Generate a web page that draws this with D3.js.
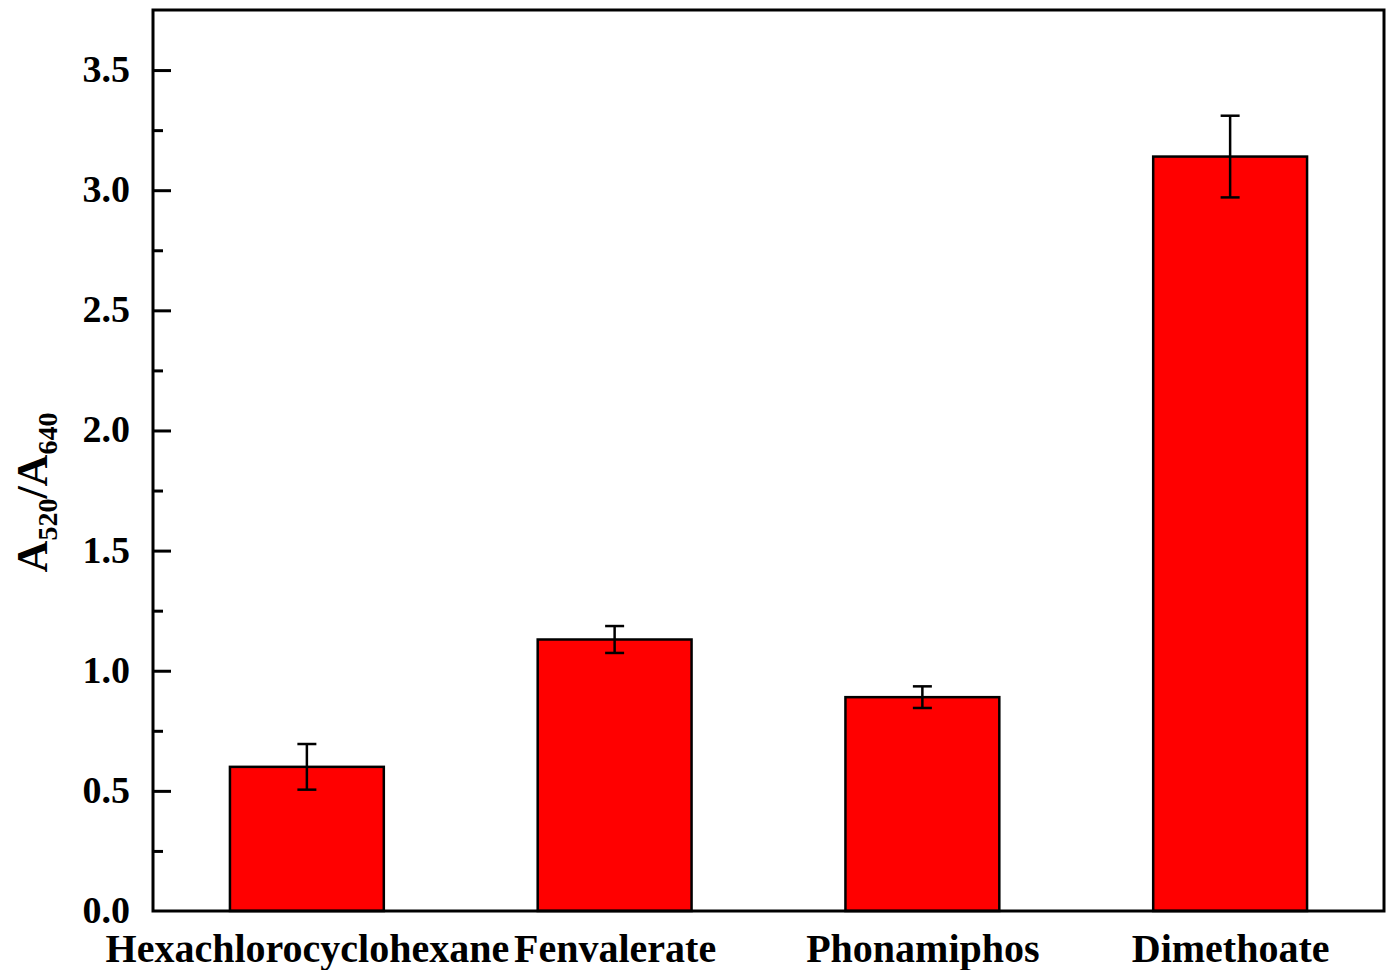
<!DOCTYPE html>
<html>
<head>
<meta charset="utf-8">
<script src="https://cdn.jsdelivr.net/npm/d3@7"></script>
<style>
  html, body { margin: 0; padding: 0; background: #fff; }
  svg { display: block; }
  text { font-family: "Liberation Serif", "Times New Roman", serif; font-weight: bold; fill: #000; }
</style>
</head>
<body>
<svg id="chart" width="1392" height="970"></svg>
<script>
// Pesticide response ratios with standard deviations
const categories = ["Hexachlorocyclohexane", "Fenvalerate", "Phonamiphos", "Dimethoate"];
const ratios = [0.60, 1.13, 0.89, 3.14];
const errors = [0.095, 0.056, 0.045, 0.17];
const yTicks = [0.0, 0.5, 1.0, 1.5, 2.0, 2.5, 3.0, 3.5];
const yMinorTicks = [0.25, 0.75, 1.25, 1.75, 2.25, 2.75, 3.25];

const W = 1392, H = 970;
const margin = { left: 153, right: 8, top: 10, bottom: 59 };
const svg = d3.select("#chart");

const x = d3.scaleLinear().domain([0.5, categories.length + 0.5]).range([margin.left, W - margin.right]);
const y = d3.scaleLinear().domain([0, 3.75]).range([H - margin.bottom, margin.top]);
const barW = (x(1) - x(0)) * 0.5;

// Bars
svg.append("g").selectAll("rect")
  .data(ratios)
  .join("rect")
  .attr("x", (d, i) => x(i + 1) - barW / 2)
  .attr("y", d => y(d))
  .attr("width", barW)
  .attr("height", d => y(0) - y(d))
  .attr("fill", "#ff0000")
  .attr("stroke", "#000")
  .attr("stroke-width", 2.5);

// Error bars
const eb = svg.append("g").attr("stroke", "#000").attr("stroke-width", 2.5);
ratios.forEach((v, i) => {
  const cx = x(i + 1), capHalf = 9.5;
  eb.append("line").attr("x1", cx).attr("x2", cx).attr("y1", y(v + errors[i])).attr("y2", y(v - errors[i]));
  eb.append("line").attr("x1", cx - capHalf).attr("x2", cx + capHalf).attr("y1", y(v + errors[i])).attr("y2", y(v + errors[i]));
  eb.append("line").attr("x1", cx - capHalf).attr("x2", cx + capHalf).attr("y1", y(v - errors[i])).attr("y2", y(v - errors[i]));
});

// Left axis with inward ticks
const yAxis = d3.axisLeft(y).tickValues(yTicks).tickFormat(d3.format(".1f")).tickSizeInner(-18).tickSizeOuter(0).tickPadding(23);
const gy = svg.append("g").attr("transform", `translate(${margin.left},0)`).call(yAxis);
gy.select(".domain").remove();
gy.selectAll(".tick line").attr("stroke", "#000").attr("stroke-width", 3);
gy.selectAll(".tick text").style("font-size", "38px").attr("dy", "0.3em")
  .style("font-family", "'Liberation Serif', serif").style("font-weight", "bold");
gy.selectAll(".tick").filter(d => d === 0).select("line").remove();

const yMinor = d3.axisLeft(y).tickValues(yMinorTicks).tickFormat("").tickSizeInner(-10).tickSizeOuter(0);
const gym = svg.append("g").attr("transform", `translate(${margin.left},0)`).call(yMinor);
gym.select(".domain").remove();
gym.selectAll(".tick line").attr("stroke", "#000").attr("stroke-width", 3);

// Category labels
const xAxis = d3.axisBottom(x).tickValues(d3.range(1, categories.length + 1)).tickFormat(d => categories[d - 1]).tickSize(0).tickPadding(23);
const gx = svg.append("g").attr("transform", `translate(0,${H - margin.bottom})`).call(xAxis);
gx.select(".domain").remove();
gx.selectAll(".tick text").style("font-size", "40px")
  .style("font-family", "'Liberation Serif', serif").style("font-weight", "bold");

// Frame
svg.append("rect")
  .attr("x", margin.left).attr("y", margin.top)
  .attr("width", W - margin.left - margin.right).attr("height", H - margin.top - margin.bottom)
  .attr("fill", "none").attr("stroke", "#000").attr("stroke-width", 3);

// Y axis title
const yt = svg.append("text")
  .attr("transform", `translate(47,${(y(0) + y(3.75)) / 2 + 32}) rotate(-90)`)
  .attr("text-anchor", "middle")
  .style("font-size", "44px");
yt.append("tspan").text("A");
yt.append("tspan").attr("dy", 10).style("font-size", "28px").text("520");
yt.append("tspan").attr("dy", -10).text("/A");
yt.append("tspan").attr("dy", 10).style("font-size", "28px").text("640");
</script>
</body>
</html>
